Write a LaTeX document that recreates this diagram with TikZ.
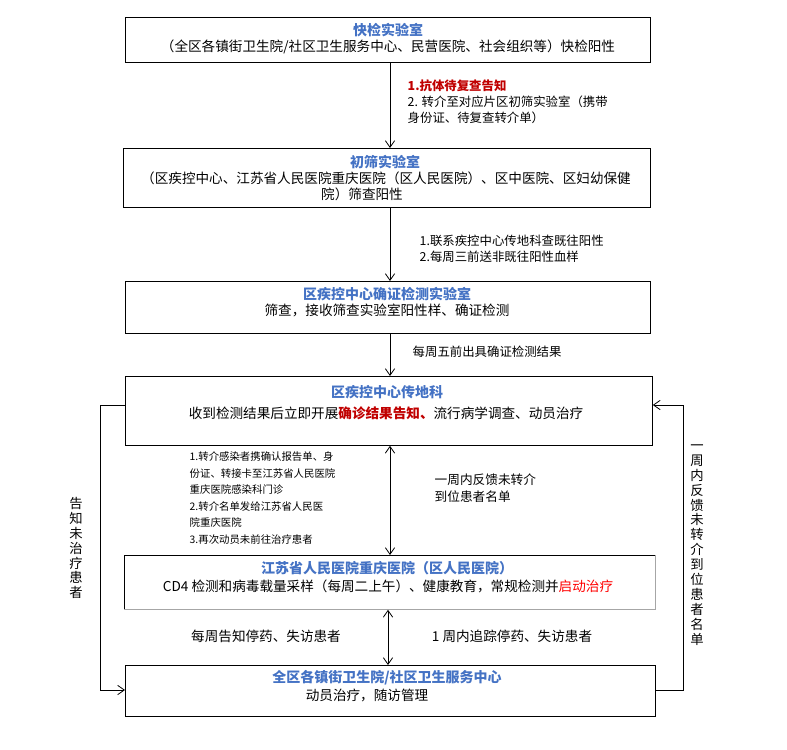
\documentclass[tikz,border=0pt]{standalone}
\usepackage{fontspec}
\setmainfont{Noto Sans CJK SC}
\usetikzlibrary{arrows.meta}
\definecolor{ttlblue}{HTML}{4472C4}
\definecolor{warnred}{HTML}{C00000}
\tikzset{
  box/.style={draw,line width=0.6pt,anchor=north west,inner sep=0pt},
  ttl/.style={text=ttlblue,font=\bfseries\fontsize{10.5}{12}\selectfont},
  txt/.style={font=\fontsize{10.2}{12}\selectfont},
  sml/.style={font=\fontsize{8}{12}\selectfont,align=left,anchor=west},
  flow/.style={-{Straight Barb[length=5pt,width=7pt]},semithick},
  both/.style={{Straight Barb[length=5pt,width=7pt]}-{Straight Barb[length=5pt,width=7pt]},semithick},
  vert/.style={font=\fontsize{10}{11.2}\selectfont,align=center,inner sep=0pt}
}
\begin{document}
\begin{tikzpicture}[x=0.75pt,y=-0.75pt]
\useasboundingbox (0,0) rectangle (787,749);
% boxes
\node[box,minimum width=525*0.75pt,minimum height=45*0.75pt] (b1) at (125,17) {};
\node[box,minimum width=527*0.75pt,minimum height=59*0.75pt] (b2) at (123,148) {};
\node[box,minimum width=525*0.75pt,minimum height=52*0.75pt] (b3) at (125,281) {};
\node[box,minimum width=527*0.75pt,minimum height=69*0.75pt] (b4) at (125,376) {};
\node[box,draw=none,minimum width=531*0.75pt,minimum height=54*0.75pt] (b5) at (124,555) {};
\draw[line width=0.6pt] (b5.south west) -- (b5.north west) -- (b5.north east);
\draw[gray!70,line width=0.8pt] (b5.south west) -- (b5.south east) -- (b5.north east);
\node[box,minimum width=530*0.75pt,minimum height=51*0.75pt] (b6) at (125,665) {};
% texts
\node[ttl] (t1) at (388,30) {快检实验室};
\node[txt] (l1) at (388,47) {（全区各镇街卫生院/社区卫生服务中心、民营医院、社会组织等）快检阳性};
\node[ttl] (t2) at (385,162) {初筛实验室};
\node[txt] (l2) at (386,178) {（区疾控中心、江苏省人民医院重庆医院（区人民医院）、区中医院、区妇幼保健};
\node[txt] (l2b) at (362,194) {院）筛查阳性};
\node[ttl] (t3) at (387,294) {区疾控中心确证检测实验室};
\node[txt] (l3) at (387,310) {筛查，接收筛查实验室阳性样、确证检测};
\node[ttl] (t4) at (387,392) {区疾控中心传地科};
\node[txt] (l4) at (386,413) {收到检测结果后立即开展\textcolor{warnred}{\bfseries 确诊结果告知、}流行病学调查、动员治疗};
\node[ttl] (t5) at (387,568) {江苏省人民医院重庆医院（区人民医院）};
\node[txt] (l5) at (388,586) {CD4 检测和病毒载量采样（每周二上午）、健康教育，常规检测并\textcolor{red}{启动治疗}};
\node[ttl] (t6) at (387,678) {全区各镇街卫生院/社区卫生服务中心};
\node[txt] (l6) at (367,695) {动员治疗，随访管理};
% vertical flow
\draw[flow] (b1.south -| 390,0) -- (b2.north -| 390,0);
\draw[flow] (b2.south -| 390,0) -- (b3.north -| 390,0);
\draw[flow] (b3.south -| 390,0) -- (b4.north -| 390,0);
\draw[both] (b4.south -| 390,0) -- (b5.north -| 390,0);
\draw[both] (b5.south -| 388,0) -- (b6.north -| 388,0);
% labels
\node[sml,font=\fontsize{9.3}{12}\selectfont] (a1) at (403,102) {\textcolor{warnred}{\bfseries 1.抗体待复查告知}\\2. 转介至对应片区初筛实验室（携带\\身份证、待复查转介单）};
\node[sml,font=\fontsize{9.3}{12}\selectfont] (a2) at (415,249) {1.联系疾控中心传地科查既往阳性\\2.每周三前送非既往阳性血样};
\node[sml,font=\fontsize{9.3}{12}\selectfont] (a3) at (408,352) {每周五前出具确证检测结果};
\node[sml,font=\fontsize{7.8}{12.4}\selectfont] (a4) at (185,498) {1.转介感染者携确认报告单、身\\份证、转接卡至江苏省人民医院\\重庆医院感染科门诊\\2.转介名单发给江苏省人民医\\院重庆医院\\3.再次动员未前往治疗患者};
\node[sml,font=\fontsize{9.5}{12.5}\selectfont] (a5) at (430,488) {一周内反馈未转介\\到位患者名单};
\node[txt] (a6) at (266,636) {每周告知停药、失访患者};
\node[txt] (a7) at (512,636) {1 周内追踪停药、失访患者};
% side loops
\draw[flow] (b4.west |- 0,405) -- (100,405) -- (100,690) -- (b6.west |- 0,690);
\draw[flow] (b6.east |- 0,690) -- (683,690) -- (683,405) -- (b4.east |- 0,405);
\node[vert] (v1) at (76,548) {告\\知\\未\\治\\疗\\患\\者};
\node[vert] (v2) at (697,545) {一\\周\\内\\反\\馈\\未\\转\\介\\到\\位\\患\\者\\名\\单};
\end{tikzpicture}
\end{document}
